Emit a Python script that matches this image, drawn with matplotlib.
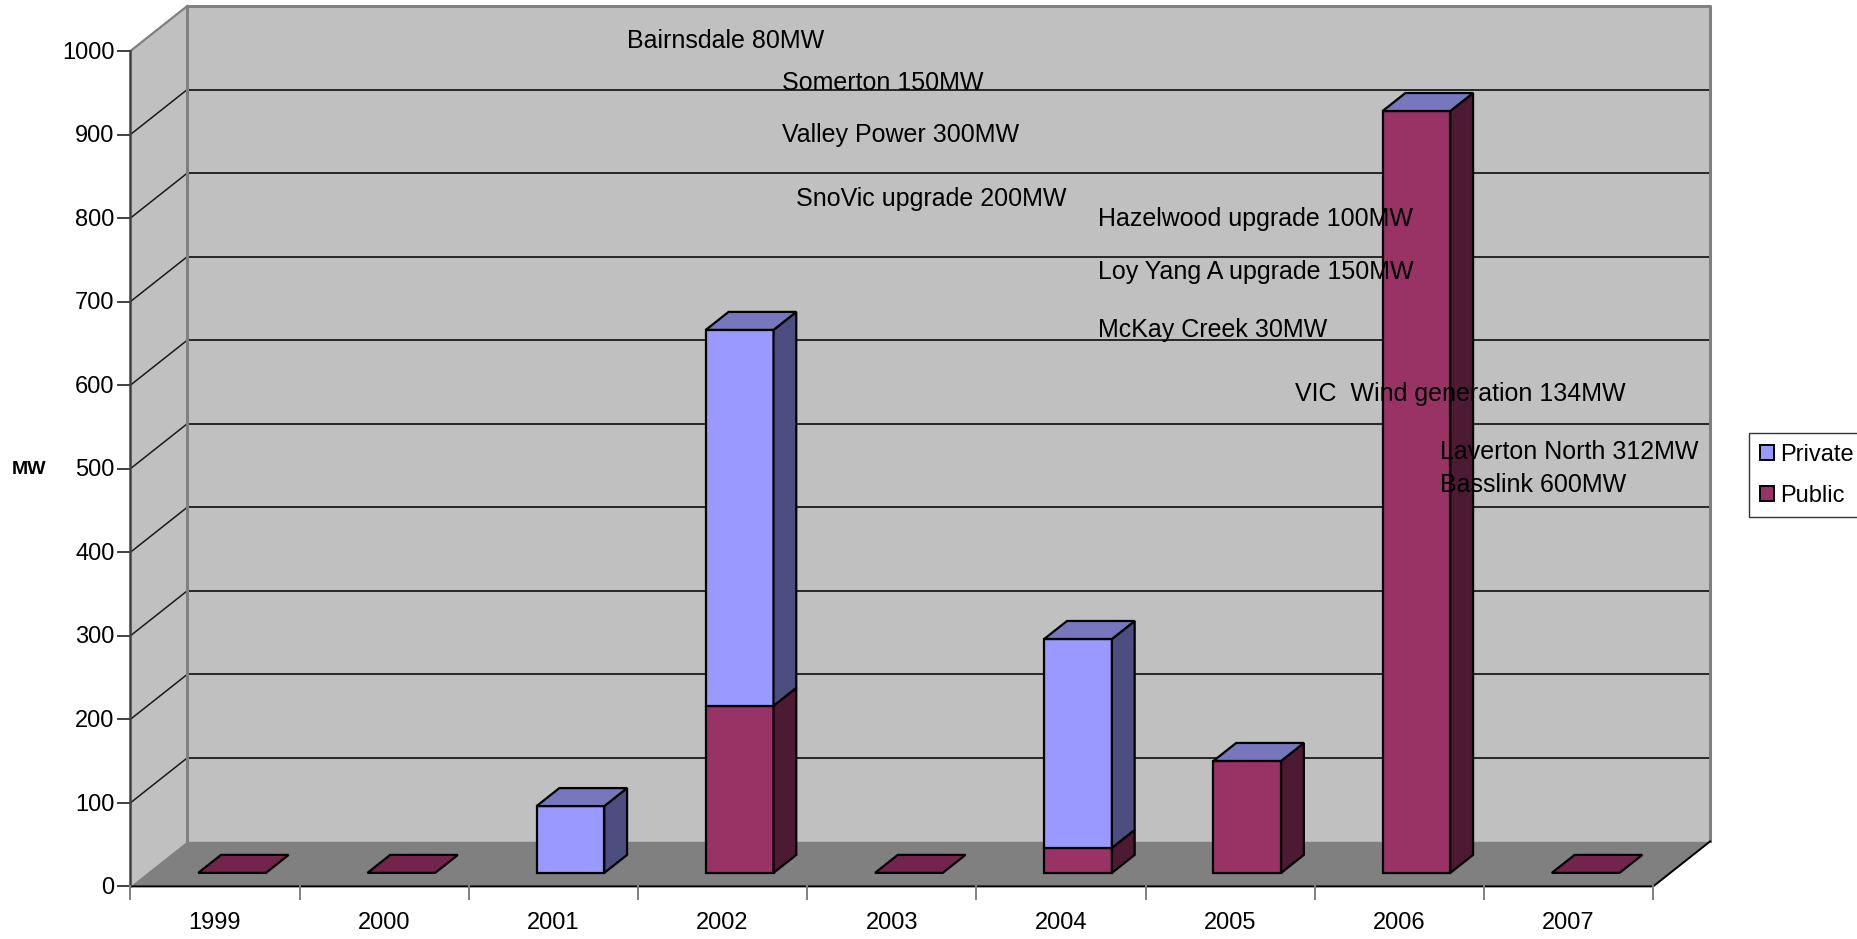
import matplotlib
matplotlib.use("Agg")
import matplotlib.pyplot as plt
from matplotlib.patches import Polygon, Patch

plt.rcParams['font.family'] = ['Liberation Sans', 'DejaVu Sans']

# ---- data -------------------------------------------------------------
years = ["1999", "2000", "2001", "2002", "2003", "2004", "2005", "2006", "2007"]
public_mw = [0, 0, 0, 200, 0, 30, 134, 912, 0]
private_mw = [0, 0, 80, 450, 0, 250, 0, 0, 0]
y_ticks = [0, 100, 200, 300, 400, 500, 600, 700, 800, 900, 1000]

projects = [
    "Bairnsdale 80MW",
    "Somerton 150MW",
    "Valley Power 300MW",
    "SnoVic upgrade 200MW",
    "Hazelwood upgrade 100MW",
    "Loy Yang A upgrade 150MW",
    "McKay Creek 30MW",
    "VIC  Wind generation 134MW",
    "Laverton North 312MW",
    "Basslink 600MW",
]

# ---- layout -------------------------------------------------------------
W, H = 1858, 939
# label anchor points in pixels (left, vertical centre)
project_pos = [(627, 41), (782, 83), (782, 135), (796, 199), (1098, 219),
               (1098, 272), (1098, 330), (1295, 394), (1440, 452), (1440, 485)]

x_px0, cat_px = 130.4, 169.2          # front y-axis position and category width
y_px0, mw_px = 886.4, 0.8354          # baseline (from top) and pixels per MW
DX = 56.9 / cat_px                    # depth shift in category units
DY = 45.0 / mw_px                     # depth shift in MW units
YMAX = 1000
n = len(years)

WALL = "#C0C0C0"
FLOOR = "#808080"
EDGE = "#808080"
colors = {
    "public": ("#993366", "#4D1A33", "#73244C"),   # front, side, top
    "private": ("#9999FF", "#4D4D80", "#7777BD"),
}

fig = plt.figure(figsize=(W / 100, H / 100), dpi=100)
ax = fig.add_axes([0, 0, 1, 1])
ax.set_xlim(-x_px0 / cat_px, (W - x_px0) / cat_px)
base = (H - y_px0) / mw_px
ax.set_ylim(-base, (H / mw_px) - base)
ax.axis("off")

# walls and floor
ax.add_patch(Polygon([(0, 0), (DX, DY), (DX, YMAX + DY), (0, YMAX)],
                     closed=True, facecolor=WALL, edgecolor="none", zorder=1))
ax.add_patch(Polygon([(DX, DY), (n + DX, DY), (n + DX, YMAX + DY), (DX, YMAX + DY)],
                     closed=True, facecolor=WALL, edgecolor="none", zorder=1))
ax.add_patch(Polygon([(0, 0), (n, 0), (n + DX, DY), (DX, DY)],
                     closed=True, facecolor=FLOOR, edgecolor="none", zorder=1))

# gridlines on back and side walls
for v in y_ticks[1:-1]:
    ax.plot([DX, n + DX], [v + DY, v + DY], color="#1a1a1a", lw=1.3, zorder=2)
    ax.plot([0, DX], [v, v + DY], color="#1a1a1a", lw=1.1, zorder=2)

# wall borders
ax.plot([DX, DX, n + DX, n + DX], [DY, YMAX + DY, YMAX + DY, DY], color=EDGE, lw=2.2, zorder=2)
ax.plot([0, DX], [YMAX, YMAX + DY], color=EDGE, lw=1.6, zorder=2)
# floor edges
ax.plot([0, n, n + DX], [0, 0, DY], color="black", lw=1.4, zorder=3)
# value axis
ax.plot([0, 0], [0, YMAX], color="#404040", lw=1.8, zorder=3)

# ticks and tick labels
tick_len_x = 12 / cat_px
for v in y_ticks:
    ax.plot([-tick_len_x, 0], [v, v], color="#404040", lw=1.4, zorder=3)
    ax.text(-tick_len_x - 4 / cat_px, v - 2, str(v), ha="right", va="center",
            fontsize=17, zorder=4)
tick_len_y = 13 / mw_px
for i in range(n + 1):
    ax.plot([i, i], [0, -tick_len_y], color="#808080", lw=1.4, zorder=3)
for i, yr in enumerate(years):
    ax.text(i + 0.5, -44, yr, ha="center", va="center", fontsize=17, zorder=4)

fig.text(29 / W, 1 - 470 / H, "MW", ha="center", va="center",
         fontsize=14, fontweight="bold")

# 3-D style stacked columns
z0, z1, bw = 0.3, 0.7, 0.4
ddx, ddy = (z1 - z0) * DX, (z1 - z0) * DY


def box(i, v0, v1, series, draw_top):
    front, side, top = colors[series]
    x0 = i + 0.3 + z0 * DX
    x1 = x0 + bw
    b0, b1 = v0 + z0 * DY, v1 + z0 * DY
    kw = dict(closed=True, edgecolor="black", lw=1.6, joinstyle="miter", zorder=5)
    if v1 > v0:
        ax.add_patch(Polygon([(x0, b0), (x1, b0), (x1, b1), (x0, b1)], facecolor=front, **kw))
        ax.add_patch(Polygon([(x1, b0), (x1 + ddx, b0 + ddy), (x1 + ddx, b1 + ddy), (x1, b1)],
                             facecolor=side, **kw))
    if draw_top:
        ax.add_patch(Polygon([(x0, b1), (x1, b1), (x1 + ddx, b1 + ddy), (x0 + ddx, b1 + ddy)],
                             facecolor=top, **kw))


for i in range(n):
    pub, pri = public_mw[i], private_mw[i]
    total = pub + pri
    box(i, 0, pub, "public", draw_top=(total == 0))
    if total > 0:
        box(i, pub, total, "private", draw_top=True)

# project annotations
for label, (px, py) in zip(projects, project_pos):
    fig.text(px / W, 1 - py / H, label, ha="left", va="center", fontsize=18, zorder=10)

# legend
handles = [Patch(facecolor=colors["private"][0], edgecolor="black", lw=1.4, label="Private"),
           Patch(facecolor=colors["public"][0], edgecolor="black", lw=1.4, label="Public")]
leg = fig.legend(handles=handles, loc="upper left", bbox_to_anchor=(1749 / W, 1 - 433 / H),
                 frameon=True, fancybox=False, fontsize=17, handlelength=0.6,
                 handleheight=0.6, handletextpad=0.25, borderpad=0.45, labelspacing=0.8,
                 borderaxespad=0)
leg.get_frame().set_edgecolor("black")
leg.get_frame().set_linewidth(1.0)

fig.savefig("out.png", dpi=100, facecolor="white")
